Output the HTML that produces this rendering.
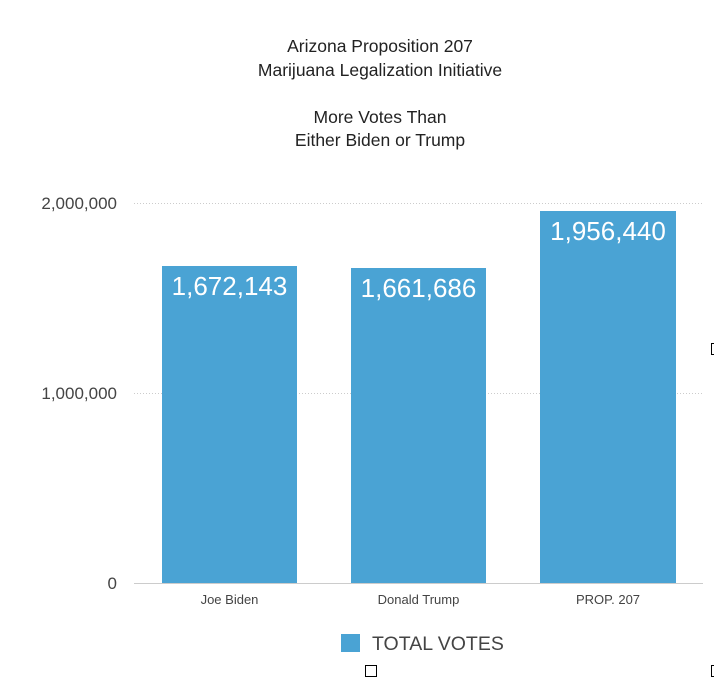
<!DOCTYPE html>
<html><head><meta charset="utf-8"><style>
html,body{margin:0;padding:0;background:#fff;}
svg{display:block;font-family:"Liberation Sans",Arial,sans-serif;}
</style></head><body>
<svg width="714" height="682" viewBox="0 0 714 682" xmlns="http://www.w3.org/2000/svg">
<g fill="#222" font-size="17.5" text-anchor="middle">
<text x="380" y="52">Arizona Proposition 207</text>
<text x="380" y="76">Marijuana Legalization Initiative</text>
<text x="380" y="123">More Votes Than</text>
<text x="380" y="146">Either Biden or Trump</text>
</g>
<line x1="134" y1="203.5" x2="703" y2="203.5" stroke="#ccc" stroke-dasharray="1,2"/>
<line x1="134" y1="393.5" x2="703" y2="393.5" stroke="#ccc" stroke-dasharray="1,2"/>
<g fill="#444" font-size="17" text-anchor="end">
<text x="117" y="209">2,000,000</text>
<text x="117" y="399">1,000,000</text>
<text x="117" y="589">0</text>
</g>
<g fill="#4aa3d4">
<rect x="162" y="266" width="135" height="317"/>
<rect x="351" y="268" width="135" height="315"/>
<rect x="540" y="211" width="136" height="372"/>
</g>
<line x1="134" y1="583.5" x2="703" y2="583.5" stroke="#ccc"/>
<g fill="#fff" font-size="26" text-anchor="middle">
<text x="229.5" y="295">1,672,143</text>
<text x="418.5" y="297">1,661,686</text>
<text x="608" y="240">1,956,440</text>
</g>
<g fill="#444" font-size="13" text-anchor="middle">
<text x="229.5" y="604">Joe Biden</text>
<text x="418.5" y="604">Donald Trump</text>
<text x="608" y="604">PROP. 207</text>
</g>
<rect x="341" y="634" width="19" height="18" fill="#4aa3d4"/>
<text x="372" y="650" fill="#444" font-size="19.5">TOTAL VOTES</text>
<rect x="365.5" y="665.5" width="11" height="11" fill="none" stroke="#000"/>
<rect x="711.5" y="343.5" width="6" height="11" fill="none" stroke="#000"/>
<rect x="711.5" y="665.5" width="6" height="11" fill="none" stroke="#000"/>
</svg>
</body></html>
